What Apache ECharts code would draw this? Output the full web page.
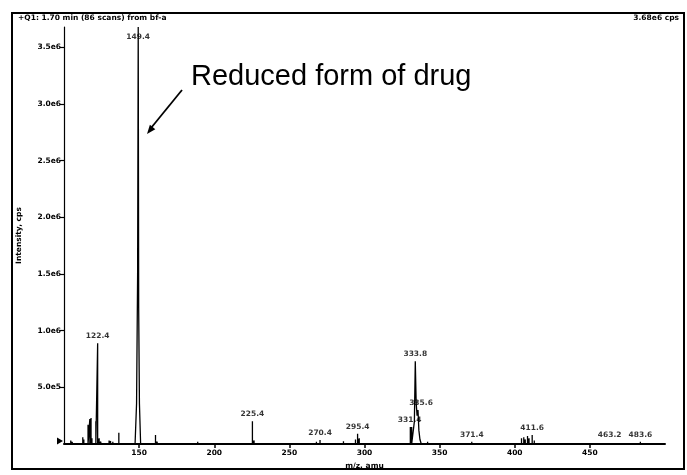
<!DOCTYPE html>
<html>
<head>
<meta charset="utf-8">
<script src="https://cdn.jsdelivr.net/npm/echarts@6/dist/echarts.min.js"></script>
<style>
html,body{margin:0;padding:0;background:#fff;}
#chart{width:687px;height:475px;}
</style>
</head>
<body>
<div id="chart"></div>
<script>
// ---- data (m/z in amu, intensity in cps) ----
var xTicks = [150, 200, 250, 300, 350, 400, 450];
var yTicks = [500000, 1000000, 1500000, 2000000, 2500000, 3000000, 3500000];

// profile shape of the base peak (149.4)
var basePeakMz  = [147.3, 148.3, 149.0, 149.4, 149.7, 150.2, 151.0];
var basePeakInt = [0, 360000, 1500000, 3680000, 1200000, 360000, 0];

// cluster around 333.8 (profile-like)
var clusterMz  = [332.6, 333.2, 333.8, 334.4, 335.0, 335.6, 336.2, 336.9, 337.8];
var clusterInt = [0, 200000, 730000, 360000, 250000, 300000, 120000, 40000, 0];

// centroid sticks
var stickMz = [102.5, 104.5, 105.5, 108, 110.5, 112.5, 113.2, 116.0, 117.2, 118.0, 118.6, 121.2, 122.4, 123.4, 124.5,
  127, 130.0, 131.0, 132.5, 136.5, 140, 143, 145, 152.5, 155, 160.9, 162, 166, 170, 175, 180, 185, 189, 191, 195, 198,
  202, 206, 210, 215, 220, 225.4, 226.5, 230, 235, 240, 245, 250, 255, 258, 262, 265, 268, 270.4, 274, 278, 282,
  286, 290, 294.0, 295.4, 296.5, 300, 305, 310, 315, 320, 325, 330.5, 331.4,
  340, 342, 346, 350, 355, 360, 365, 368, 371.4, 375, 380, 385, 390, 395, 400,
  404.5, 406.0, 407.0, 408.5, 409.5, 411.6, 413.0, 418, 423, 428, 435, 440, 446, 452, 458, 463.2, 468, 473,
  478, 481, 483.6, 486, 490, 495];
var stickInt = [12000, 30000, 18000, 8000, 10000, 60000, 40000, 170000, 220000, 230000, 50000, 200000, 890000, 50000, 20000,
  8000, 30000, 25000, 20000, 100000, 8000, 6000, 10000, 15000, 10000, 80000, 20000, 8000, 10000, 12000, 8000, 10000, 20000, 15000, 10000, 8000,
  15000, 8000, 10000, 8000, 12000, 200000, 30000, 10000, 8000, 12000, 10000, 8000, 10000, 12000, 15000, 10000, 20000, 35000, 15000, 8000, 10000,
  25000, 10000, 40000, 90000, 50000, 10000, 12000, 8000, 10000, 8000, 12000, 150000, 150000,
  15000, 20000, 10000, 8000, 10000, 8000, 10000, 15000, 20000, 10000, 8000, 10000, 8000, 10000, 8000,
  50000, 60000, 40000, 70000, 50000, 80000, 30000, 10000, 8000, 10000, 8000, 10000, 8000, 10000, 12000, 15000, 8000, 10000,
  12000, 15000, 20000, 12000, 8000, 10000];

// labelled peaks
var labelMz  = [122.4, 149.4, 225.4, 270.4, 295.4, 331.4, 333.8, 335.6, 371.4, 411.6, 463.2, 483.6];
var labelInt = [890000, 3680000, 200000, 35000, 90000, 150000, 730000, 300000, 20000, 80000, 15000, 20000];

// ---- build the trace ----
var pts = [];
for (var i = 0; i < stickMz.length; i++) {
  pts.push([stickMz[i], 0], [stickMz[i], stickInt[i]], [stickMz[i], 0]);
}
for (var j = 0; j < basePeakMz.length; j++) pts.push([basePeakMz[j], basePeakInt[j]]);
for (var k = 0; k < clusterMz.length; k++) pts.push([clusterMz[k], clusterInt[k]]);
pts.sort(function (a, b) { return a[0] - b[0]; });
pts.unshift([100, 0]);
pts.push([500, 0]);

var labelOffsets = { '149.4': [0, 17], '331.4': [-2, 0], '335.6': [3, 0] };
var labelData = labelMz.map(function (m, i) {
  var item = { value: [m, labelInt[i]] };
  var key = m.toFixed(1);
  if (labelOffsets[key]) item.label = { offset: labelOffsets[key] };
  return item;
});

var FONT = 'DejaVu Sans';
var chart = echarts.init(document.getElementById('chart'));
chart.setOption({
  animation: false,
  backgroundColor: '#ffffff',
  grid: { left: 64, right: 22, top: 27, bottom: 31 },
  xAxis: {
    type: 'value', min: 100, max: 500, interval: 50,
    name: 'm/z, amu', nameLocation: 'middle', nameGap: 12,
    nameTextStyle: { fontFamily: FONT, fontWeight: 'bold', fontSize: 7.5, color: '#000' },
    axisLine: { lineStyle: { color: '#000', width: 2 } },
    axisTick: { lineStyle: { color: '#000', width: 1.5 }, length: 4 },
    axisLabel: {
      showMinLabel: false, showMaxLabel: false, margin: 5,
      fontFamily: FONT, fontWeight: 'bold', fontSize: 7.5, color: '#000',
      formatter: function (v) { return xTicks.indexOf(v) >= 0 ? String(v) : ''; }
    },
    splitLine: { show: false }
  },
  yAxis: {
    type: 'value', min: 0, max: 3680000, interval: 500000,
    name: 'Intensity, cps', nameLocation: 'middle', nameGap: 41, nameRotate: 90,
    nameTextStyle: { fontFamily: FONT, fontWeight: 'bold', fontSize: 7.5, color: '#000' },
    axisLine: { show: true, lineStyle: { color: '#000', width: 1.2 } },
    axisTick: { show: true, lineStyle: { color: '#000', width: 1.2 }, length: 4 },
    axisLabel: {
      showMinLabel: false, showMaxLabel: false, margin: 3,
      fontFamily: FONT, fontWeight: 'bold', fontSize: 7.5, color: '#000',
      formatter: function (v) {
        return yTicks.indexOf(v) >= 0 ? v.toExponential(1).replace('e+', 'e') : '';
      }
    },
    splitLine: { show: false }
  },
  series: [
    {
      type: 'line', data: pts, showSymbol: false, symbol: 'none',
      lineStyle: { color: '#000', width: 1.3 },
      markPoint: {
        silent: true,
        data: [{ coord: [100, 0], symbol: 'triangle', symbolSize: [7, 6], symbolRotate: -90,
                 symbolOffset: [-4, -3], itemStyle: { color: '#000' }, label: { show: false } }]
      }
    },
    {
      type: 'scatter', data: labelData, symbolSize: 0, silent: true,
      label: {
        show: true, position: 'top', distance: 3,
        fontFamily: FONT, fontWeight: 'bold', fontSize: 7.5, color: '#000',
        formatter: function (p) { return p.value[0].toFixed(1); }
      }
    }
  ],
  graphic: [
    { type: 'rect', shape: { x: 12, y: 13, width: 672, height: 456 },
      style: { fill: 'none', stroke: '#000', lineWidth: 2 } },
    { type: 'text', left: 18, top: 14,
      style: { text: '+Q1: 1.70 min (86 scans) from bf-a', font: 'bold 7.5px "DejaVu Sans"', fill: '#000' } },
    { type: 'text', right: 8, top: 14,
      style: { text: '3.68e6 cps', font: 'bold 7.5px "DejaVu Sans"', fill: '#000' } },
    { type: 'text', left: 191, top: 62,
      style: { text: 'Reduced form of drug', font: '29px "Liberation Sans", Arial, sans-serif', fill: '#000' } },
    { type: 'line', shape: { x1: 182, y1: 90, x2: 151, y2: 128 },
      style: { stroke: '#000', lineWidth: 1.8 } },
    { type: 'polygon', shape: { points: [[147, 134], [155.3, 129.2], [149.9, 124.8]] },
      style: { fill: '#000' } }
  ]
});
</script>
</body>
</html>
